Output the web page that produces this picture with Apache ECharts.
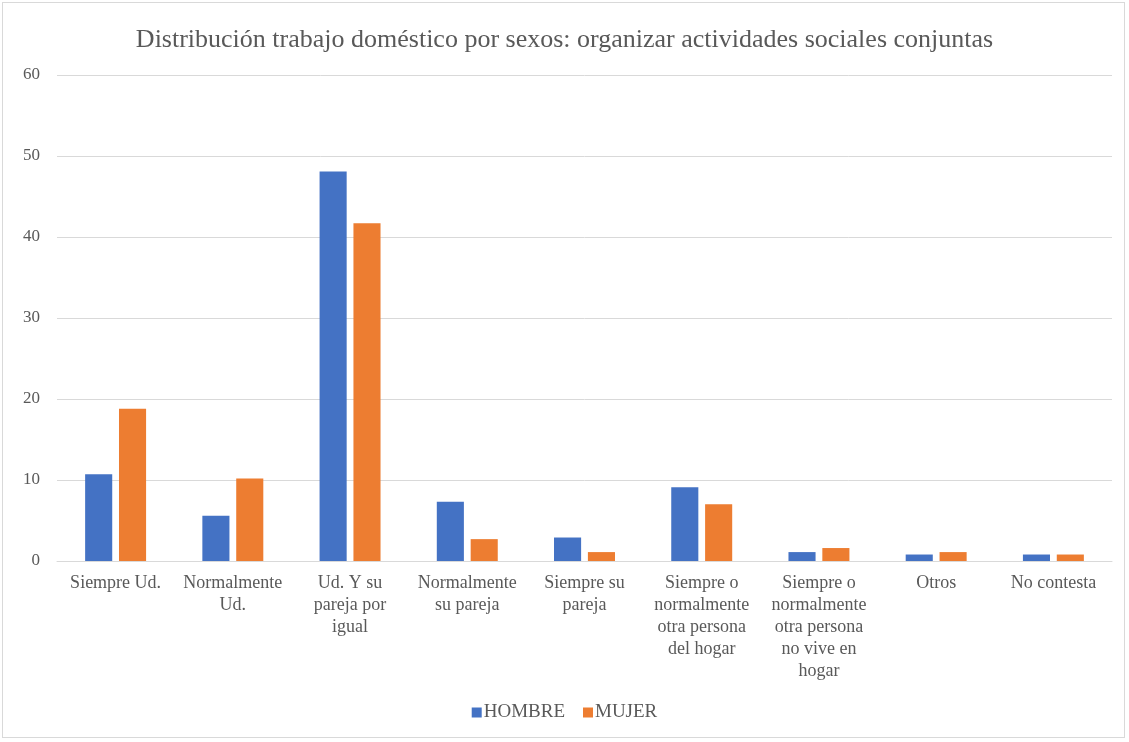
<!DOCTYPE html>
<html>
<head>
<meta charset="utf-8">
<script src="https://cdn.jsdelivr.net/npm/echarts@6/dist/echarts.min.js"></script>
<style>
  html, body { margin: 0; padding: 0; background: #fff; }
  #frame { position: absolute; left: 2px; top: 2px; width: 1123px; height: 736px; border: 1px solid #d9d9d9; box-sizing: border-box; }
  #chart { position: absolute; left: 0; top: 0; width: 1129px; height: 742px; }
</style>
</head>
<body>
<div id="frame"></div>
<div id="chart"></div>
<script>
// Categories (line breaks follow the wrapped axis labels)
const categories = [
  'Siempre Ud.',
  'Normalmente\nUd.',
  'Ud. Y su\npareja por\nigual',
  'Normalmente\nsu pareja',
  'Siempre su\npareja',
  'Siempre o\nnormalmente\notra persona\ndel hogar',
  'Siempre o\nnormalmente\notra persona\nno vive en\nhogar',
  'Otros',
  'No contesta'
];
const hombre = [10.7, 5.6, 48.1, 7.3, 2.9, 9.1, 1.1, 0.8, 0.8];
const mujer  = [18.8, 10.2, 41.7, 2.7, 1.1, 7.0, 1.6, 1.1, 0.8];
const seriesNames = ['HOMBRE', 'MUJER'];
const yTicks = { min: 0, max: 60, interval: 10 };

const FONT = '"Liberation Serif", "Times New Roman", serif';
const TEXT = '#595959';

const chart = echarts.init(document.getElementById('chart'), null, { renderer: 'canvas' });
chart.setOption({
  animation: false,
  backgroundColor: 'transparent',
  title: {
    text: 'Distribución trabajo doméstico por sexos: organizar actividades sociales conjuntas',
    left: 'center',
    top: 22,
    textStyle: { fontFamily: FONT, fontSize: 26, fontWeight: 'normal', color: TEXT }
  },
  legend: {
    data: seriesNames,
    bottom: 15,
    left: 'center',
    icon: 'rect',
    itemWidth: 10,
    itemHeight: 10,
    itemGap: 18,
    textStyle: { fontFamily: FONT, fontSize: 19, color: TEXT, padding: [0, 0, 0, -3] }
  },
  grid: { left: 57, right: 17, top: 75, bottom: 181, containLabel: false },
  xAxis: {
    type: 'category',
    data: categories,
    axisLine: { lineStyle: { color: '#d9d9d9', width: 1 } },
    axisTick: { show: false },
    axisLabel: {
      interval: 0,
      margin: 11,
      fontFamily: FONT,
      fontSize: 18,
      color: TEXT,
      lineHeight: 22,
      verticalAlign: 'top'
    }
  },
  yAxis: {
    type: 'value',
    min: yTicks.min,
    max: yTicks.max,
    interval: yTicks.interval,
    axisLine: { show: false },
    axisTick: { show: false },
    splitLine: { lineStyle: { color: '#d9d9d9', width: 1 } },
    axisLabel: { margin: 17, fontFamily: FONT, fontSize: 17, color: TEXT }
  },
  series: [
    {
      name: seriesNames[0],
      type: 'bar',
      data: hombre,
      barGap: '25%',
      barCategoryGap: '48%',
      itemStyle: { color: '#4472C4' }
    },
    {
      name: seriesNames[1],
      type: 'bar',
      data: mujer,
      itemStyle: { color: '#ED7D31' }
    }
  ]
});
</script>
</body>
</html>
